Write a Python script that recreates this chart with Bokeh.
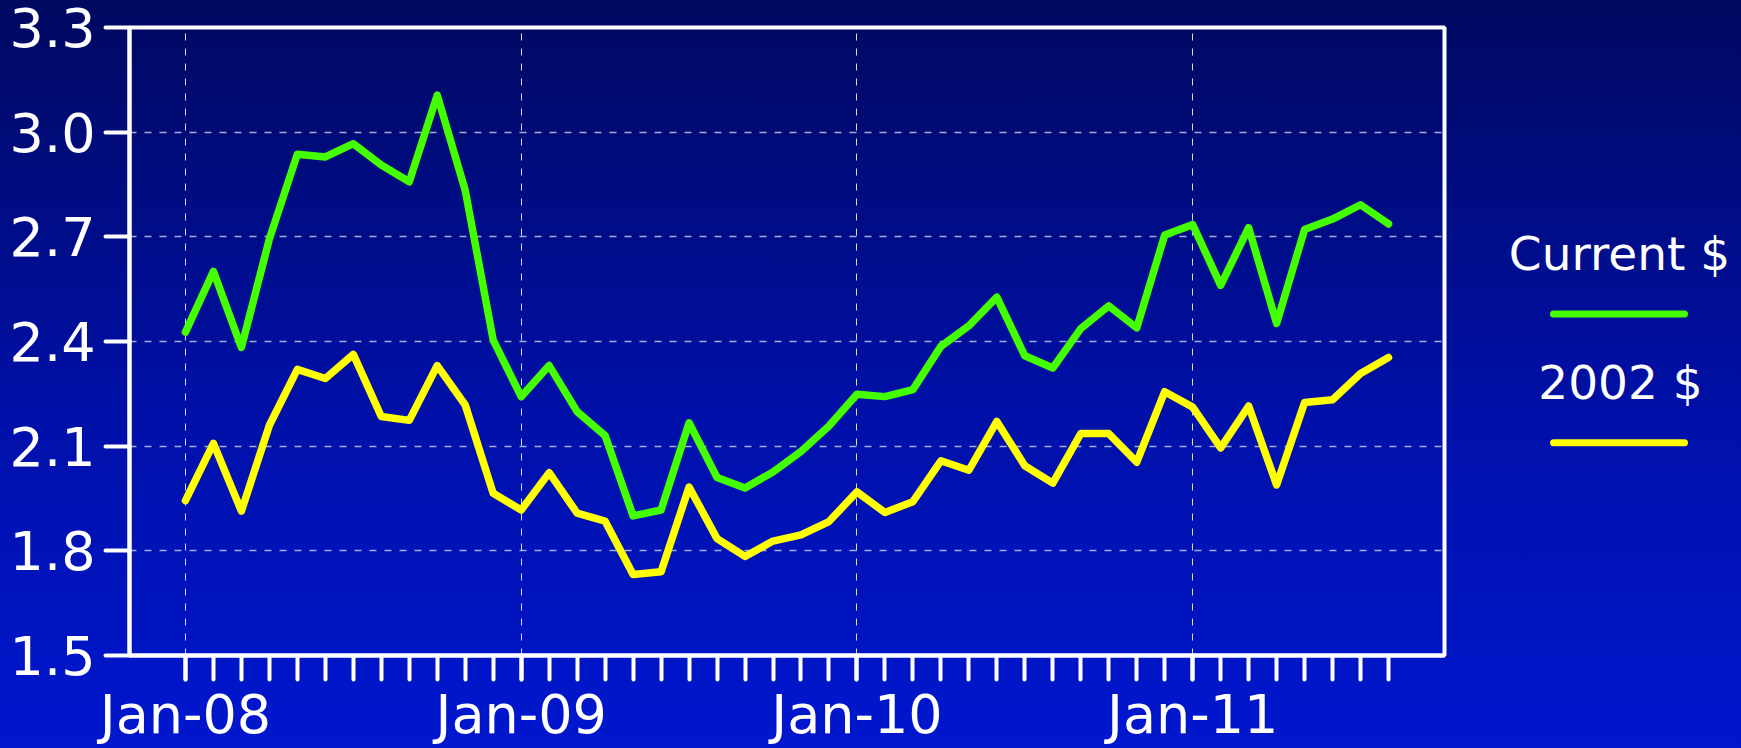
from bokeh.plotting import figure
from bokeh.layouts import row
from bokeh.models import (FixedTicker, GlobalInlineStyleSheet, ColumnDataSource, Range1d)
from bokeh.core.properties import value
from bokeh.embed import file_html
from bokeh.resources import INLINE

# ---------------- data ----------------
month_index = list(range(44))  # Jan-08 .. Aug-11
current_dollars = [2.427, 2.601, 2.383, 2.694, 2.937, 2.929, 2.967, 2.906, 2.858, 3.106,
                   2.833, 2.404, 2.242, 2.331, 2.199, 2.130, 1.900, 1.917, 2.167, 2.010,
                   1.980, 2.026, 2.085, 2.158, 2.249, 2.242, 2.262, 2.386, 2.445, 2.527,
                   2.359, 2.324, 2.437, 2.502, 2.439, 2.705, 2.735, 2.561, 2.726, 2.452,
                   2.721, 2.751, 2.792, 2.737]
dollars_2002 = [1.944, 2.108, 1.914, 2.160, 2.320, 2.294, 2.363, 2.185, 2.174, 2.331,
                2.218, 1.965, 1.917, 2.024, 1.908, 1.885, 1.732, 1.740, 1.983, 1.835,
                1.784, 1.828, 1.846, 1.884, 1.969, 1.910, 1.941, 2.058, 2.031, 2.171,
                2.044, 1.994, 2.136, 2.136, 2.054, 2.256, 2.212, 2.095, 2.215, 1.989,
                2.225, 2.233, 2.308, 2.354]
x_tick_positions = [0, 12, 24, 36]
x_tick_labels = ["Jan-08", "Jan-09", "Jan-10", "Jan-11"]
y_ticks = [1.5, 1.8, 2.1, 2.4, 2.7, 3.0, 3.3]
series_names = ["Current $", "2002 $"]
series_colors = ["#44ff00", "#ffff00"]

FONT = "DejaVu Sans"
W, H = 1741, 748

bg_css = GlobalInlineStyleSheet(css="""
html { min-height: 100%; background: linear-gradient(180deg, #000960 0%, #0010a8 55%, #0017cf 100%) fixed; }
html, body { overflow: hidden; }
body { background: transparent; }
""")

LEFT, TOP, FW, FH, RIGHT = 129, 27, 1315, 628, 4
p = figure(frame_width=FW, frame_height=FH, output_backend="svg", toolbar_location=None,
           x_range=Range1d(-2, 45), y_range=Range1d(1.5, 3.3),
           min_border_left=LEFT, min_border_right=RIGHT, min_border_top=TOP,
           min_border_bottom=H - TOP - FH)
p.stylesheets = [bg_css]
p.background_fill_color = None
p.border_fill_color = None
p.outline_line_color = "white"
p.outline_line_width = 4

src = ColumnDataSource(dict(x=month_index, cur=current_dollars, r02=dollars_2002))
p.line("x", "cur", source=src, line_color=series_colors[0], line_width=7.5,
       line_join="round", line_cap="round")
p.line("x", "r02", source=src, line_color=series_colors[1], line_width=7.5,
       line_join="round", line_cap="round")

# x axis
xa = p.xaxis[0]
xa.ticker = FixedTicker(ticks=x_tick_positions, minor_ticks=month_index)
xa.major_label_overrides = {t: l for t, l in zip(x_tick_positions, x_tick_labels)}
xa.major_tick_in = 0
xa.major_tick_out = 24
xa.minor_tick_in = 0
xa.minor_tick_out = 24
xa.minor_tick_line_color = "white"
xa.minor_tick_line_width = 4
xa.minor_tick_line_cap = "round"
xa.major_label_standoff = 3
xa.major_label_text_font_size = "54px"

ya = p.yaxis[0]
ya.ticker = FixedTicker(ticks=y_ticks, minor_ticks=[])
ya.major_label_overrides = {t: f"{t:.1f}" for t in y_ticks}
ya.major_tick_in = 0
ya.major_tick_out = 24
ya.minor_tick_line_color = None
ya.major_label_standoff = 10
ya.major_label_text_font_size = "54px"

for ax in (xa, ya):
    ax.axis_line_color = "white"
    ax.axis_line_width = 4
    ax.major_tick_line_color = "white"
    ax.major_tick_line_width = 4
    ax.major_tick_line_cap = "round"
    ax.major_label_text_color = "white"
    ax.major_label_text_font = FONT

p.xgrid.grid_line_color = "white"
p.xgrid.grid_line_alpha = 0.85
p.xgrid.grid_line_dash = "7 8"
p.xgrid.grid_line_width = 1
p.ygrid.grid_line_color = "white"
p.ygrid.grid_line_alpha = 0.65
p.ygrid.grid_line_dash = "7 8"
p.ygrid.grid_line_width = 1.5

# ---------------- legend panel (label above a line sample) ----------------
# the row aligns this panel's frame with the main frame top (page y = TOP),
# so its y range is set to page pixel rows TOP .. TOP + H
PW = LEFT + FW + RIGHT
leg = figure(frame_width=W - PW, frame_height=H, output_backend="svg",
             toolbar_location=None, x_axis_location=None, y_axis_location=None,
             x_range=Range1d(PW, W), y_range=Range1d(H + TOP, TOP),
             min_border=0, min_border_left=0, min_border_right=0,
             min_border_top=0, min_border_bottom=0)
leg.grid.visible = False
leg.outline_line_color = None
leg.background_fill_color = None
leg.border_fill_color = None

legend_text_x = [1619, 1620]
legend_text_y = [253, 382]
legend_line_y = [313.5, 442.3]
leg.text(x=legend_text_x, y=legend_text_y, text=series_names, text_align="center",
         text_baseline="alphabetic", text_color="white",
         text_font=value(FONT), text_font_size="47px")
leg.segment(x0=[1553, 1553], y0=legend_line_y, x1=[1684, 1684], y1=legend_line_y,
            line_color=series_colors, line_width=7, line_cap="round")

layout = row(p, leg, spacing=0)
open("out.html", "w").write(file_html(layout, INLINE))
